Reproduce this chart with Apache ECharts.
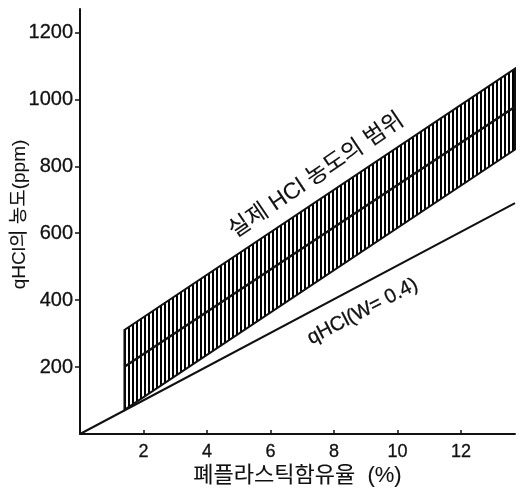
<!DOCTYPE html>
<html>
<head>
<meta charset="utf-8">
<script src="https://cdn.jsdelivr.net/npm/echarts@6/dist/echarts.min.js"></script>
<style>html,body{margin:0;padding:0;background:#fff;}#c{width:521px;height:488px;}</style>
</head>
<body>
<div id="c"></div>
<script>
// ---- data ----
const xTicks = [2, 4, 6, 8, 10, 12];
const yTicks = [200, 400, 600, 800, 1000, 1200];
const wLineX = [0, 13.7];
const wLineY = [0, 690];
const bandX = [1.4, 13.7];
const bandLow = [72, 850];
const bandMid = [201, 978];
const bandHigh = [311, 1092];
const bandText = '실제 HCl 농도의 범위';
const wText = 'qHCl(W= 0.4)';
const xName = '폐플라스틱함유율  (%)';
const yName = 'qHCl의 농도(ppm)';

const FONT = '"Liberation Sans", "Noto Sans CJK KR", sans-serif';
const INK = '#111';
const BOLDISH = {textBorderColor: INK, textBorderWidth: 0.3};

// hatch pattern
const pc = document.createElement('canvas');
pc.width = 4; pc.height = 4;
const pctx = pc.getContext('2d');
pctx.fillStyle = '#000';
pctx.fillRect(0, 0, 2, 4);

const chart = echarts.init(document.getElementById('c'), null, {renderer: 'canvas'});
chart.setOption({
  animation: false,
  backgroundColor: '#fff',
  grid: {left: 80, right: 6, top: 9, bottom: 54, outerBoundsMode: 'none'},
  xAxis: {
    type: 'value', min: 0, max: 13.7, interval: 2,
    name: xName, nameLocation: 'middle', nameGap: 31, nameMoveOverlap: false,
    nameTextStyle: Object.assign({fontFamily: FONT, fontSize: 22, color: INK}, {textBorderColor: INK, textBorderWidth: 0.1}),
    axisLine: {show: true, onZero: false, lineStyle: {color: INK, width: 2}},
    axisTick: {show: true, inside: true, length: 4, customValues: xTicks, lineStyle: {color: INK, width: 1.5}},
    axisLabel: Object.assign({customValues: xTicks, margin: 9, fontFamily: FONT, fontSize: 18, color: INK,
      formatter: v => String(v)}, BOLDISH),
    splitLine: {show: false}
  },
  yAxis: {
    type: 'value', min: 0, max: 1270, interval: 200,
    name: yName, nameLocation: 'middle', nameGap: 51, nameMoveOverlap: false,
    nameTextStyle: Object.assign({fontFamily: FONT, fontSize: 19, color: INK, padding: [0, 0, 0, 14]}, {textBorderColor: INK, textBorderWidth: 0.1}),
    axisLine: {show: true, onZero: false, lineStyle: {color: INK, width: 2}},
    axisTick: {show: true, inside: false, length: 5, customValues: yTicks, lineStyle: {color: INK, width: 1.5}},
    axisLabel: Object.assign({customValues: yTicks, margin: 7, fontFamily: FONT, fontSize: 20, color: INK,
      formatter: v => String(v)}, BOLDISH),
    splitLine: {show: false}
  },
  series: [
    {
      type: 'custom',
      silent: true,
      data: [0],
      renderItem: function (params, api) {
        const pts = [
          api.coord([bandX[0], bandLow[0]]),
          api.coord([bandX[1], bandLow[1]]),
          api.coord([bandX[1], bandHigh[1]]),
          api.coord([bandX[0], bandHigh[0]])
        ];
        return {
          type: 'polygon',
          shape: {points: pts},
          style: {fill: {image: pc, repeat: 'repeat'}, stroke: INK, lineWidth: 2}
        };
      },
      z: 2
    },
    {
      type: 'line', silent: true, symbol: 'none',
      data: bandX.map((x, i) => [x, bandMid[i]]),
      lineStyle: {color: INK, width: 2.4}, z: 3
    },
    {
      type: 'line', silent: true, symbol: 'none',
      data: wLineX.map((x, i) => [x, wLineY[i]]),
      lineStyle: {color: INK, width: 2}, z: 3
    },
    {
      type: 'scatter', silent: true, symbolSize: 0,
      itemStyle: {opacity: 1},
      data: [[7.45, 772]],
      label: Object.assign({show: true, position: 'inside', formatter: bandText, rotate: 34,
        fontFamily: FONT, fontSize: 23, color: INK, opacity: 1}, {textBorderColor: INK, textBorderWidth: 0.1}),
      z: 4
    },
    {
      type: 'scatter', silent: true, symbolSize: 0,
      itemStyle: {opacity: 1},
      data: [[8.9, 366]],
      label: Object.assign({show: true, position: 'inside', formatter: wText, rotate: 27.5,
        fontFamily: FONT, fontSize: 20, color: INK, opacity: 1}, BOLDISH),
      z: 4
    }
  ]
});
</script>
</body>
</html>
